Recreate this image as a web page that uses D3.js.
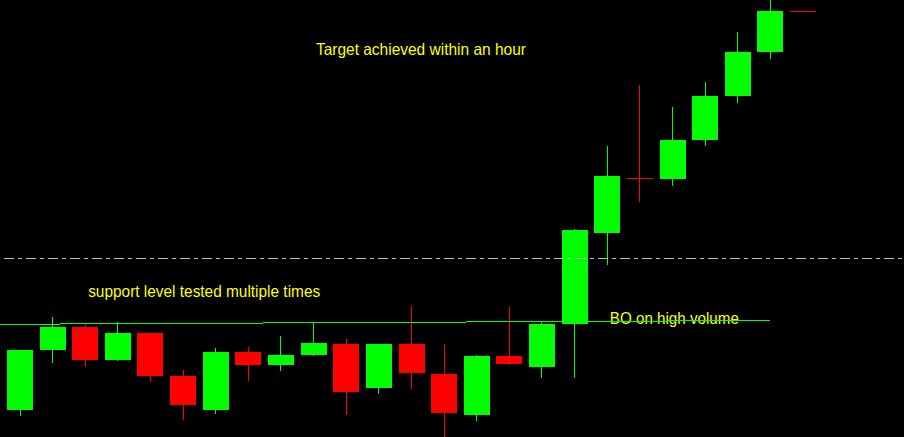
<!DOCTYPE html>
<html>
<head>
<meta charset="utf-8">
<script src="https://cdn.jsdelivr.net/npm/d3@7"></script>
<style>
  html, body { margin: 0; padding: 0; background: #000; overflow: hidden; }
  svg { display: block; }
</style>
</head>
<body>
<div id="chart"></div>
<script>
// ---- Data (bar index 0..24, prices) ----
const bars  = d3.range(25);
const opens  = [1.3027,1.3087,1.3110,1.3077,1.3104,1.3061,1.3027,1.3085,1.3072,1.3082,1.3093,1.3049,1.3093,1.3063,1.3022,1.3081,1.3070,1.3113,1.3204,1.3259,1.3258,1.3297,1.3341,1.3385,1.3426];
const highs  = [1.3087,1.3120,1.3113,1.3115,1.3104,1.3067,1.3089,1.3090,1.3101,1.3115,1.3098,1.3093,1.3131,1.3093,1.3082,1.3130,1.3116,1.3208,1.3291,1.3352,1.3330,1.3355,1.3405,1.3442,1.3426];
const lows   = [1.3022,1.3075,1.3071,1.3077,1.3056,1.3018,1.3024,1.3057,1.3067,1.3082,1.3023,1.3044,1.3049,1.2997,1.3017,1.3073,1.3060,1.3060,1.3173,1.3236,1.3252,1.3292,1.3335,1.3379,1.3426];
const closes = [1.3087,1.3110,1.3077,1.3104,1.3061,1.3032,1.3085,1.3072,1.3082,1.3094,1.3045,1.3093,1.3064,1.3024,1.3081,1.3073,1.3113,1.3207,1.3261,1.3259,1.3297,1.3341,1.3385,1.3426,1.3426];

// support trendline: [bar index, price] endpoints
const supportLine = [[-0.613, 1.31127], [23, 1.31165]];
// breakout / target level (dash-dot)
const levelPrice = 1.3179;

// annotations: text, anchor bar index, anchor price
const noteTexts  = ["Target achieved within an hour", "support level tested multiple times", "BO on high volume"];
const noteBars   = [9.07, 2.09, 18.08];
const notePrices = [1.3382, 1.3140, 1.3113];
const noteWidths = [210, 232, 129];

// ---- Layout ----
const W = 904, H = 437;
const svg = d3.select("#chart").append("svg").attr("width", W).attr("height", H)
  .style("background", "#000");

const x = d3.scaleLinear().domain([0, 24]).range([20, 803]);
const y = d3.scaleLinear().domain([1.3000, 1.3437]).range([437, 0]);

const GREEN = "#00ff00", RED = "#ff0000";
const data = bars.map(i => ({i, o: opens[i], h: highs[i], l: lows[i], c: closes[i]}));

// text annotations
const g0 = svg.append("g");
g0.selectAll("text").data(noteTexts).join("text")
  .attr("x", (d, k) => x(noteBars[k]))
  .attr("y", (d, k) => Math.round(y(notePrices[k])))
  .attr("textLength", (d, k) => noteWidths[k])
  .attr("lengthAdjust", "spacingAndGlyphs")
  .attr("fill", "#ffff00")
  .style("font-family", "'Liberation Sans', Arial, sans-serif")
  .style("font-size", "16.5px")
  .text(d => d);

// candles
const gc = svg.append("g").attr("shape-rendering", "crispEdges");
const candle = gc.selectAll("g.c").data(data).join("g").attr("class", "c");
candle.append("line")
  .attr("x1", d => Math.floor(x(d.i)) + 0.5)
  .attr("x2", d => Math.floor(x(d.i)) + 0.5)
  .attr("y1", d => Math.round(y(d.h)))
  .attr("y2", d => Math.round(y(d.l)) + 1)
  .attr("stroke", d => d.c > d.o ? GREEN : RED)
  .attr("stroke-width", 1);
candle.append("rect")
  .attr("x", d => Math.round(x(d.i) - 13))
  .attr("width", 26)
  .attr("y", d => Math.round(y(Math.max(d.o, d.c))))
  .attr("height", d => Math.max(1, Math.round(y(Math.min(d.o, d.c))) - Math.round(y(Math.max(d.o, d.c)))))
  .attr("fill", d => d.c > d.o ? GREEN : RED);

// support trendline
svg.append("line")
  .attr("shape-rendering", "crispEdges")
  .attr("x1", x(supportLine[0][0])).attr("y1", y(supportLine[0][1]))
  .attr("x2", x(supportLine[1][0])).attr("y2", y(supportLine[1][1]))
  .attr("stroke", GREEN).attr("stroke-width", 1);

// dash-dot level line
const ly = Math.round(y(levelPrice)) + 0.5;
svg.append("line")
  .attr("shape-rendering", "crispEdges")
  .attr("x1", 0).attr("x2", W).attr("y1", ly).attr("y2", ly)
  .attr("stroke", "#c0c0c0").attr("stroke-width", 1)
  .attr("stroke-dasharray", "10,4,4,4")
  .attr("stroke-dashoffset", 18);
</script>
</body>
</html>
